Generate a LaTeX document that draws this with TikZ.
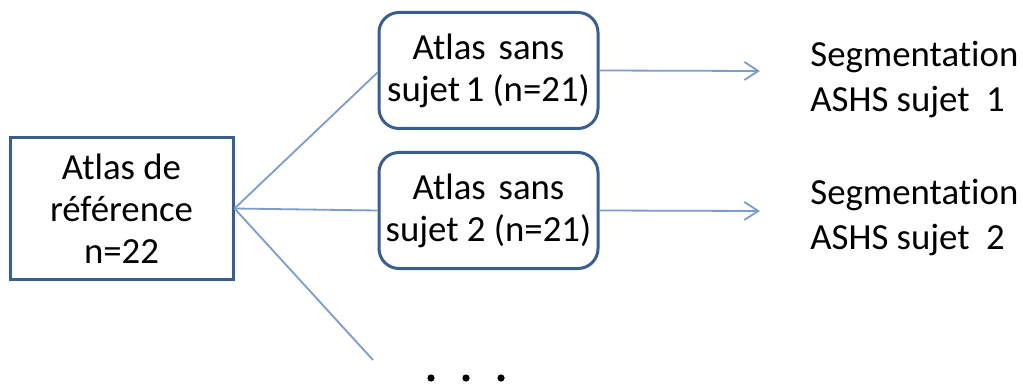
\documentclass[tikz,border=0pt]{standalone}
\usepackage{fontspec}
\setmainfont[Ligatures=NoCommon]{Carlito}
\usetikzlibrary{arrows.meta}
\definecolor{boxborder}{HTML}{3A5F8E}
\definecolor{lineblue}{HTML}{7A9CCF}
\tikzset{
  lbl/.style={font=\fontsize{18.4}{21}\selectfont, align=center, inner sep=0pt},
  sqbox/.style={draw=boxborder, line width=1.5pt, minimum width=111.5pt, minimum height=70.5pt, lbl},
  rbox/.style={draw=boxborder, line width=1.5pt, rounded corners=10pt, minimum width=109.5pt, minimum height=58pt, lbl},
  conn/.style={draw=lineblue, line width=0.9pt},
  arr/.style={conn, -{Straight Barb[length=7pt, width=9pt, line width=0.9pt]}},
  outlbl/.style={font=\fontsize{18.4}{22.5}\selectfont, align=left, inner sep=0pt, anchor=west}
}
\begin{document}
\begin{tikzpicture}[x=0.5pt, y=-0.5pt]
\useasboundingbox (0,0) rectangle (1023,385);
\node[sqbox] (ref) at (121.5,208.5) {Atlas de\\référence\\n=22};
\node[rbox] (a1) at (488.5,70.5) {Atlas\hspace{0.35em}sans\\sujet\hspace{0.15em}1 (n=21)};
\node[rbox] (a2) at (488.5,210.5) {Atlas\hspace{0.35em}sans\\sujet 2 (n=21)};
\coordinate (low) at (373,360);
\coordinate (e1) at (760,71);
\coordinate (e2) at (760,211);
\draw[conn] (ref.east) -- ([yshift=-1pt]a1.west);
\draw[conn] (ref.east) -- (a2.west);
\draw[conn] (ref.east) -- (low);
\draw[arr] (a1.east) -- (e1);
\draw[arr] (a2.east) -- (e2);
\node[outlbl] (s1) at (810,79) {Segmentation\\ASHS sujet\hspace{0.45em}1};
\node[outlbl] (s2) at (810,217) {Segmentation\\ASHS sujet\hspace{0.45em}2};
\foreach \x/\n in {431/d1,466/d2,501/d3}
  \fill (\x,378) circle (3.6) coordinate (\n);
\end{tikzpicture}
\end{document}
